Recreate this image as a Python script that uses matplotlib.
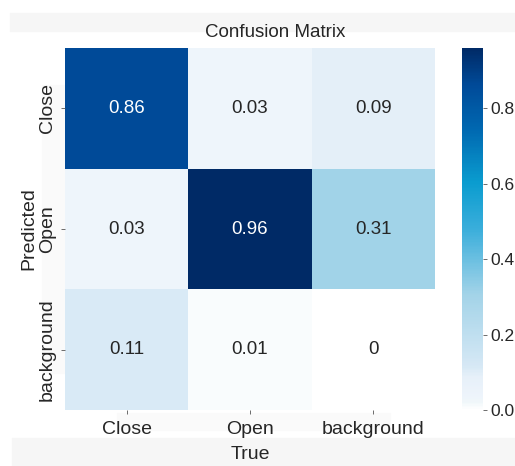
import numpy as np
import matplotlib
matplotlib.use('Agg')
import matplotlib.pyplot as plt
from matplotlib.colors import LinearSegmentedColormap
from matplotlib.patches import Rectangle
import seaborn as sns

# rows = predicted, columns = true
classes = ['Close', 'Open', 'background']
matrix = np.array([
    [0.86, 0.03, 0.09],
    [0.03, 0.96, 0.31],
    [0.11, 0.01, 0.00],
])

# Blues-like map, a bit more cyan in the middle like the reference
cmap = LinearSegmentedColormap.from_list('blues_c', [
    (0.00, '#ffffff'),
    (0.02, '#f0f7fa'),
    (0.035, '#eef4fb'),
    (0.09, '#e6f0f9'),
    (0.12, '#d6e8f5'),
    (0.32, '#a2d3e8'),
    (0.50, '#3aaedb'),
    (0.63, '#0a9ccf'),
    (0.78, '#0067b0'),
    (0.90, '#004a98'),
    (1.00, '#002a66'),
])

plt.rcParams['font.family'] = ['Liberation Sans', 'DejaVu Sans']

fig = plt.figure(figsize=(5.15, 4.66), dpi=100)
W, H = 515, 466

# faint grey bands behind the title and axis labels
def band(x0, y0, x1, y1, color='#f6f6f6'):
    fig.patches.append(Rectangle((x0 / W, 1 - y1 / H), (x1 - x0) / W, (y1 - y0) / H,
                                 transform=fig.transFigure, color=color, zorder=-5))

band(10, 13, 515, 31)
band(12, 438, 515, 466)
band(117, 413, 390, 430, '#fafafa')
band(42, 85, 66, 373, '#fafafa')

ax = fig.add_axes([65 / W, 1 - 410 / H, 370 / W, 362 / H])
cax = fig.add_axes([462 / W, 1 - 410 / H, 21 / W, 362 / H])

sns.heatmap(matrix, ax=ax, cbar_ax=cax, cmap=cmap, vmin=0.0, vmax=0.96,
            annot=True, fmt='.2g', annot_kws={'size': 13.5},
            xticklabels=classes, yticklabels=classes, square=False)

ax.tick_params(axis='both', length=3, width=0.6, color='#555555',
               labelsize=14, labelcolor='#262626')
ax.tick_params(axis='x', pad=5)
ax.set_yticklabels(classes, rotation=90, va='center')
ax.set_xticklabels(classes, rotation=0)
ax.set_xlabel('True', fontsize=14, color='#262626', labelpad=6)
ax.set_ylabel('Predicted', fontsize=14, color='#262626', labelpad=1)

cax.tick_params(length=3, width=0.6, color='#555555', labelsize=12.5,
                labelcolor='#262626', pad=2)
cax.set_yticks([0.0, 0.2, 0.4, 0.6, 0.8])
for s in cax.spines.values():
    s.set_visible(False)

fig.text(275 / W, 1 - 37 / H, 'Confusion Matrix', ha='center', va='baseline',
         fontsize=13.5, color='#262626')

plt.savefig('out.png', dpi=100)
